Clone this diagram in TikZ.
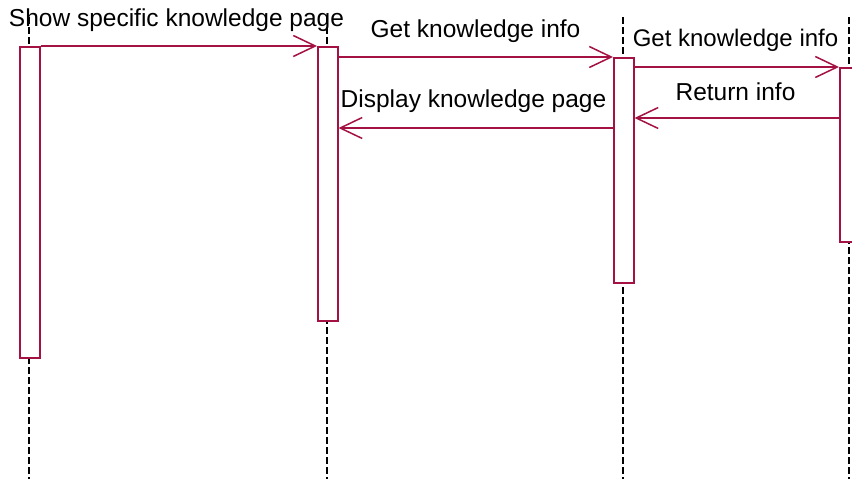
\documentclass[tikz,border=0pt]{standalone}
\usepackage{fontspec}
\setmainfont{Liberation Sans}
\usetikzlibrary{arrows.meta,calc}
\definecolor{seqred}{RGB}{163,18,66}
\begin{document}
\begin{tikzpicture}[x=1pt,y=-1pt,
  lifeline/.style={black,line width=1.5pt,dash pattern=on 7pt off 3pt},
  actbox/.style={draw=seqred,fill=white,line width=1.5pt,inner sep=0pt,minimum width=20pt,anchor=north west},
  msg/.style={draw=seqred,line width=1.5pt,-{Straight Barb[length=22pt,width=21pt,line width=1.5pt]}},
  lbl/.style={inner sep=0pt,anchor=base,font=\fontsize{24.5}{29}\selectfont},
  lblsmall/.style={inner sep=0pt,anchor=base,font=\fontsize{24}{29}\selectfont}]
\useasboundingbox (0,0) rectangle (852,479);
\clip (0,0) rectangle (852,479);
% lifelines
\coordinate (t1) at (29,17); \coordinate (e1) at (29,479);
\coordinate (t2) at (327,17); \coordinate (e2) at (327,479);
\coordinate (t3) at (623,17); \coordinate (e3) at (623,479);
\coordinate (t4) at (849,17); \coordinate (e4) at (849,479);
\draw[lifeline] (t1) -- (e1);
\draw[lifeline] (t2) -- (e2);
\draw[lifeline] (t3) -- (e3);
\draw[lifeline] (t4) -- (e4);
% activation boxes
\node[actbox,minimum height=311pt] (b1) at (19,46) {};
\node[actbox,minimum height=274pt] (b2) at (317,46) {};
\node[actbox,minimum height=225pt] (b3) at (613,57) {};
\node[actbox,minimum height=174pt] (b4) at (839,67) {};
% messages
\draw[msg] (b1.north east) -- (b2.north west);
\draw[msg] (b2.east |- b3.north) -- (b3.north west);
\draw[msg] (b3.east |- b4.north) -- (b4.north west);
\coordinate (r4) at (b4.west |- 0,118);
\draw[msg] (r4) -- (b3.east |- r4);
\coordinate (d3) at (b3.west |- 0,128);
\draw[msg] (d3) -- (b2.east |- d3);
% labels
\node[lbl] (m1) at (176.5,26.7) {Show specific knowledge page};
\node[lbl] (m2) at (475.5,37) {Get knowledge info};
\node[lblsmall] (m3) at (735.5,46.5) {Get knowledge info};
\node[lbl] (m4) at (735.5,100) {Return info};
\node[lbl] (m5) at (473.5,107) {Display knowledge page};
\end{tikzpicture}
\end{document}
